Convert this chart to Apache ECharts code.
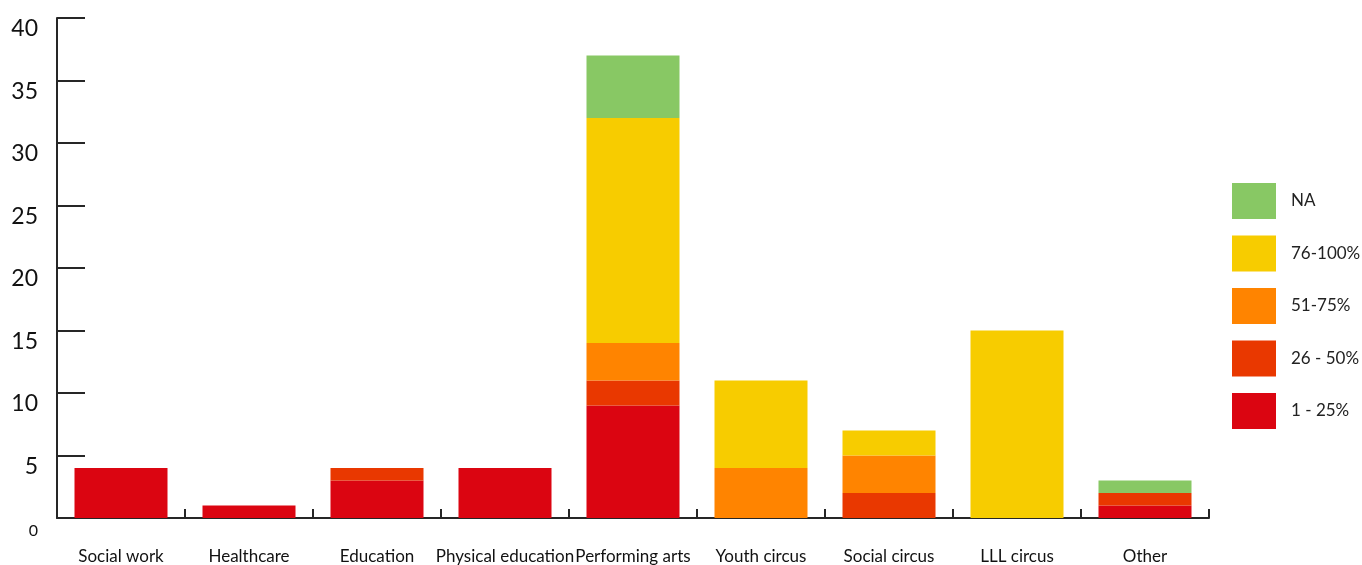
<!DOCTYPE html>
<html>
<head>
<meta charset="utf-8">
<script src="https://cdn.jsdelivr.net/npm/echarts@6/dist/echarts.min.js"></script>
<style>html,body{margin:0;padding:0;background:#fff;}#c{width:1362px;height:565px;}</style>
</head>
<body>
<div id="c"></div>
<script>
const categories = ['Social work','Healthcare','Education','Physical education','Performing arts','Youth circus','Social circus','LLL circus','Other'];
const s1_25 = [4,1,3,4,9,0,0,0,1];
const s26_50 = [0,0,1,0,2,0,2,0,1];
const s51_75 = [0,0,0,0,3,4,3,0,0];
const s76_100 = [0,0,0,0,18,7,2,15,0];
const sNA = [0,0,0,0,5,0,0,0,1];
const seriesNames = ['1 - 25%','26 - 50%','51-75%','76-100%','NA'];
const seriesData = [s1_25, s26_50, s51_75, s76_100, sNA];
const colors = ['#DB0511','#E93800','#FF8400','#F7CC00','#88C864'];
const legendOrder = ['NA','76-100%','51-75%','26 - 50%','1 - 25%'];

const font = 'Lato, "Open Sans", sans-serif';
const chart = echarts.init(document.getElementById('c'));
chart.setOption({
  animation: false,
  textStyle: {fontFamily: font},
  grid: {left: 57, right: 153, top: 18, bottom: 46, containLabel: false},
  legend: {
    orient: 'vertical', left: 1232, top: 183, padding: 0,
    itemWidth: 44, itemHeight: 36, itemGap: 16.5,
    icon: 'rect',
    data: legendOrder,
    textStyle: {fontSize: 17, color: '#222', fontFamily: font, padding: [0,0,0,10]}
  },
  xAxis: {
    type: 'category', data: categories,
    axisLine: {lineStyle: {color: '#262626', width: 2}},
    axisTick: {show: true, inside: true, length: 9, lineStyle: {color: '#262626', width: 2}},
    axisLabel: {interval: 0, margin: 30, fontSize: 17, color: '#111', fontFamily: font}
  },
  yAxis: {
    type: 'value', min: 0, max: 40, interval: 5,
    splitLine: {show: false},
    axisLine: {show: true, lineStyle: {color: '#262626', width: 2}},
    axisTick: {show: true, inside: true, length: 28, lineStyle: {color: '#262626', width: 2}},
    axisLabel: {
      margin: 19, color: '#111', fontFamily: font,
      formatter: v => v === 0 ? '{z|0}' : '{a|' + v + '}',
      rich: {
        a: {fontSize: 23, padding: [22,0,0,0], fontFamily: font, color: '#111'},
        z: {fontSize: 16, padding: [26,0,0,0], fontFamily: font, color: '#111'}
      }
    }
  },
  series: seriesNames.map((n, i) => ({
    name: n, type: 'bar', stack: 'a', data: seriesData[i],
    barWidth: 93, itemStyle: {color: colors[i]}
  }))
});
</script>
</body>
</html>
